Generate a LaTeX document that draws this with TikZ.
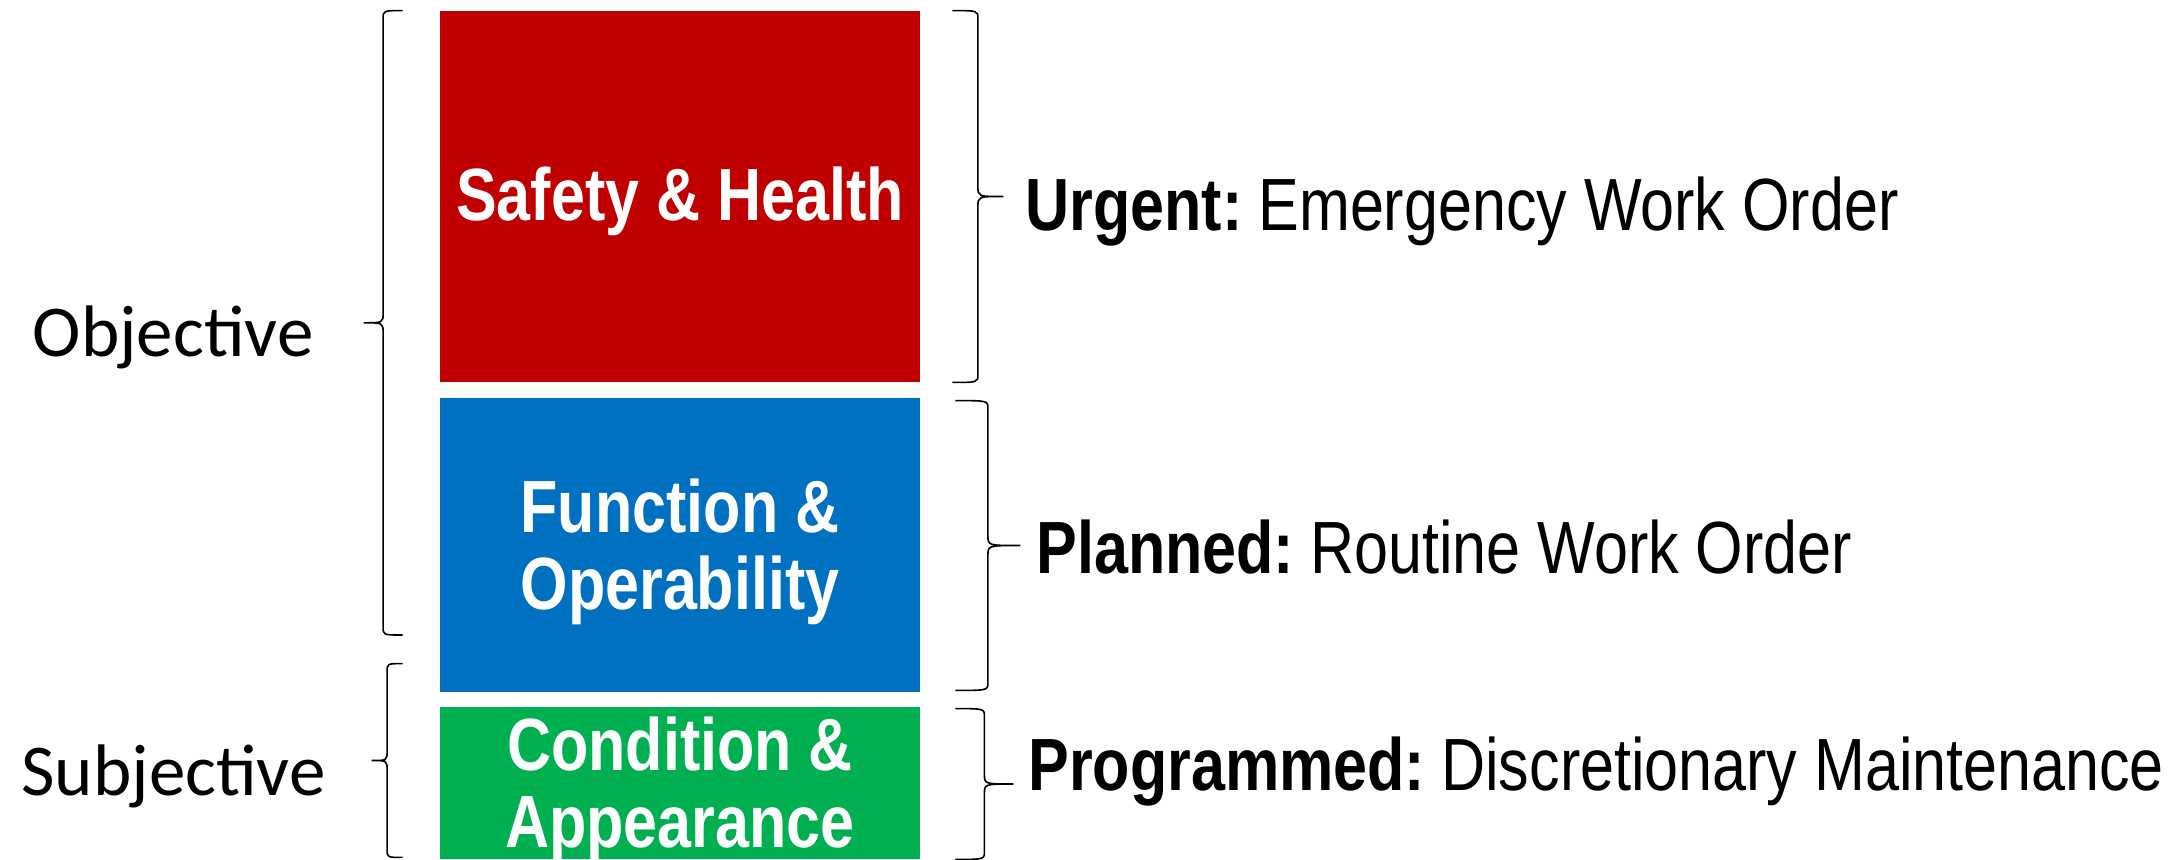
\documentclass[tikz,border=0pt]{standalone}
\usepackage{fontspec}
\newfontfamily\narrowfont[FakeStretch=0.825]{Liberation Sans}
\newfontfamily\bodyfont{Carlito}
\usetikzlibrary{calc}

\definecolor{SHred}{HTML}{C00000}
\definecolor{FOblue}{HTML}{0070C0}
\definecolor{CAgreen}{HTML}{00B050}

\tikzset{
  block/.style={rectangle, inner sep=0pt, minimum width=240pt},
  blocktext/.style={inner sep=0pt, align=center, text=white,
    font=\narrowfont\bfseries\fontsize{37}{38.5}\selectfont},
  braceline/.style={line width=0.8pt},
  tag/.style={anchor=base west, inner sep=0pt, font=\narrowfont\fontsize{37}{38.5}\selectfont},
  side/.style={anchor=base, inner sep=0pt, font=\bodyfont\fontsize{36.5}{40}\selectfont}
}

% vertical curly brace: top end, bottom end, signed amplitude
\newcommand{\vbrace}[3]{%
  \draw[braceline] let \p1 = (#1), \p2 = (#2), \n1 = {0.5*(\y1+\y2)}, \n2 = {\x1+0.5*(#3)} in
  (\p1) .. controls ({\n2*1pt},\y1) .. ({\n2*1pt},{\y1-4pt})
  -- ({\n2*1pt},{\n1*1pt+5pt}) .. controls ({\n2*1pt},{\n1*1pt}) .. ({\x1+(#3)},{\n1*1pt})
  .. controls ({\n2*1pt},{\n1*1pt}) .. ({\n2*1pt},{\n1*1pt-5pt})
  -- ({\n2*1pt},{\y2+4pt}) .. controls ({\n2*1pt},\y2) .. (\p2);}

\begin{document}
\begin{tikzpicture}[x = 0.5pt, y = -0.5pt]
\useasboundingbox (0,0) rectangle (2177,859);

\node[block, fill=SHred, minimum height=185.5pt] (SH) at (680,196.5) {};
\node[block, fill=FOblue, minimum height=147pt] (FO) at (680,545) {};
\node[block, fill=CAgreen, minimum height=76pt] (CA) at (680,783) {};
\node[blocktext] (SHtxt) at ($(SH.center)+(0,5)$) {Safety \& Health};
\node[blocktext] (FOtxt) at ($(FO.center)+(0,7)$) {Function \&\\Operability};
\node[blocktext] (CAtxt) at ($(CA.center)+(0,7)$) {Condition \&\\Appearance};

\node[tag] (URG) at (1025,230) {\textbf{Urgent:}\hspace{8pt}Emergency Work Order};
\node[tag] (PLN) at (1036,573) {\textbf{Planned:}\hspace{8pt}Routine Work Order};
\node[tag] (PRG) at (1028,790) {\textbf{Programmed:}\hspace{8pt}Discretionary Maintenance};

\node[side] (OBJ) at (173,356) {Objective};
\node[side] (SUBJ) at (173.5,795) {Subjective};

% right braces
\vbrace{$(SH.north east)+(32,0)$}{$(SH.south east)+(32,0)$}{25.5pt}
\vbrace{$(FO.north east)+(35,3)$}{$(FO.south east)+(35,-2)$}{32.5pt}
\vbrace{$(CA.north east)+(35,2)$}{$(CA.south east)+(35,0)$}{29pt}

% left braces
\vbrace{$(SH.north west)+(-37,0)$}{$(FO.west)+(-37,90)$}{-19.5pt}
\vbrace{$(CA.north west)+(-37,-43)$}{$(CA.south west)+(-37,-2)$}{-15.5pt}
\end{tikzpicture}
\end{document}
